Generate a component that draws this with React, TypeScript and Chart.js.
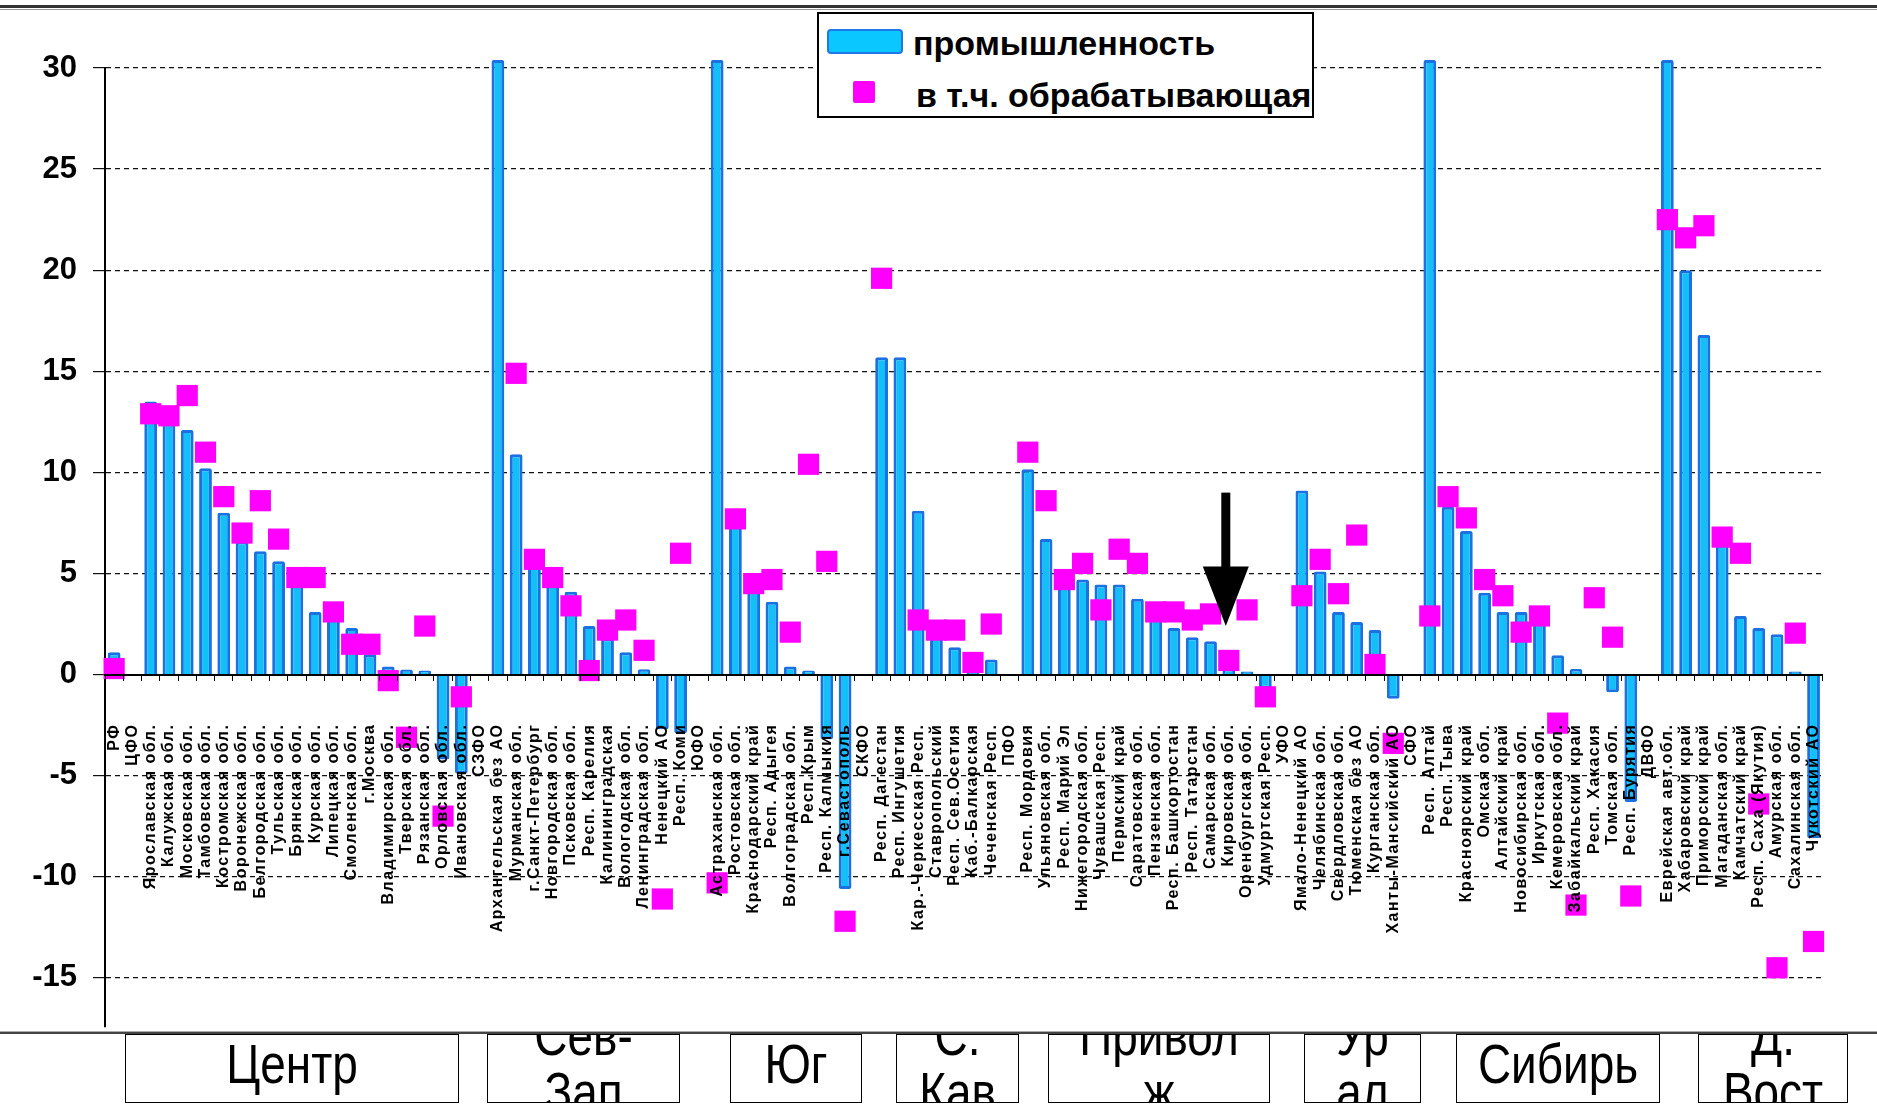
import React, { useEffect, useRef } from 'react';
import { Chart, registerables } from 'chart.js';

Chart.register(...registerables);

const categories: string[] = [
  'РФ', 'ЦФО', 'Ярославская обл.', 'Калужская обл.', 'Московская обл.', 'Тамбовская обл.', 'Костромская обл.',
  'Воронежская обл.', 'Белгородская обл.', 'Тульская обл.', 'Брянская обл.', 'Курская обл.', 'Липецкая обл.',
  'Смоленская обл.', 'г.Москва', 'Владимирская обл.', 'Тверская обл.', 'Рязанская обл.', 'Орловская обл.',
  'Ивановская обл.', 'СЗФО', 'Архангельская без АО', 'Мурманская обл.', 'г.Санкт-Петербург', 'Новгородская обл.',
  'Псковская обл.', 'Респ. Карелия', 'Калининградская', 'Вологодская обл.', 'Ленинградская обл.', 'Ненецкий АО',
  'Респ. Коми', 'ЮФО', 'Астраханская обл.', 'Ростовская обл.', 'Краснодарский край', 'Респ. Адыгея',
  'Волгоградская обл.', 'Респ.Крым', 'Респ. Калмыкия', 'г.Севастополь', 'СКФО', 'Респ. Дагестан',
  'Респ. Ингушетия', 'Кар.-Черкесская Респ.', 'Ставропольский', 'Респ. Сев.Осетия', 'Каб.-Балкарская',
  'Чеченская Респ.', 'ПФО', 'Респ. Мордовия', 'Ульяновская обл.', 'Респ. Марий Эл', 'Нижегородская обл.',
  'Чувашская Респ.', 'Пермский край', 'Саратовская обл.', 'Пензенская обл.', 'Респ. Башкортостан',
  'Респ. Татарстан', 'Самарская обл.', 'Кировская обл.', 'Оренбургская обл.', 'Удмуртская Респ.', 'УФО',
  'Ямало-Ненецкий АО', 'Челябинская обл.', 'Свердловская обл.', 'Тюменская без АО', 'Курганская обл.',
  'Ханты-Мансийский АО', 'СФО', 'Респ. Алтай', 'Респ. Тыва', 'Красноярский край', 'Омская обл.',
  'Алтайский край', 'Новосибирская обл.', 'Иркутская обл.', 'Кемеровская обл.', 'Забайкальский край',
  'Респ. Хакасия', 'Томская обл.', 'Респ. Бурятия', 'ДВФО', 'Еврейская авт.обл.', 'Хабаровский край',
  'Приморский край', 'Магаданская обл.', 'Камчатский край', 'Респ. Саха (Якутия)', 'Амурская обл.',
  'Сахалинская обл.', 'Чукотский АО',
];

// промышленность
const industry: (number | null)[] = [
  1.1, null, 13.5, 12.9, 12.1, 10.2, 8.0, 6.6, 6.1, 5.6, 4.6, 3.1, 2.8, 2.3, 1.0, 0.4, 0.25, 0.2, -4.2, -4.9,
  null, 30.4, 10.9, 5.5, 4.5, 4.1, 2.4, 1.8, 1.1, 0.26, -2.7, -2.9,
  null, 30.4, 7.4, 4.3, 3.6, 0.4, 0.2, -3.2, -10.6,
  null, 15.7, 15.7, 8.1, 2.0, 1.35, 0.5, 0.75,
  null, 10.15, 6.7, 4.5, 4.7, 4.45, 4.45, 3.75, 2.9, 2.3, 1.85, 1.65, 0.3, 0.15, -0.7,
  null, 9.1, 5.1, 3.1, 2.6, 2.2, -1.2,
  null, 30.4, 8.3, 7.1, 4.05, 3.1, 3.1, 2.7, 0.95, 0.27, null, -0.87, -6.3,
  null, 30.4, 20.0, 16.8, 6.6, 2.9, 2.3, 2.0, 0.15, -8.1,
];

// в т.ч. обрабатывающая
const manufacturing: (number | null)[] = [
  0.3, null, 12.9, 12.8, 13.8, 11.0, 8.8, 7.0, 8.6, 6.7, 4.8, 4.8, 3.1, 1.5, 1.5, -0.3, -3.1, 2.4, -7.0, -1.1,
  null, null, 14.9, 5.7, 4.8, 3.4, 0.2, 2.2, 2.7, 1.2, -11.1, 6.0,
  null, -10.3, 7.7, 4.5, 4.7, 2.1, 10.4, 5.6, -12.2,
  null, 19.6, null, 2.7, 2.2, 2.2, 0.6, 2.5,
  null, 11.0, 8.6, 4.7, 5.5, 3.2, 6.2, 5.5, 3.1, 3.1, 2.7, 3.0, 0.7, 3.2, -1.1,
  null, 3.9, 5.7, 4.0, 6.9, 0.5, -3.4,
  null, 2.9, 8.8, 7.75, 4.7, 3.9, 2.1, 2.9, -2.4, -11.4, 3.8, 1.85, -10.95,
  null, 22.5, 21.6, 22.2, 6.8, 6.0, -6.4, -14.5, 2.05, -13.2,
];

const seriesNames: string[] = ['промышленность', 'в т.ч. обрабатывающая'];
const yMin = -17.4;
const yMax = 30;
const yStep = 5;
const arrowCategory = 'Кировская обл.';

const regionLines: string[][] = [
  ['Центр'], ['Сев-', 'Зап'], ['Юг'], ['С.', 'Кав'], ['Привол', 'ж'], ['Ур', 'ал'], ['Сибирь'], ['Д.', 'Вост'],
];
const regionBoxes: [number, number][] = [
  [125, 459], [487, 680], [730, 862], [896, 1019], [1048, 1270], [1304, 1421], [1456, 1660], [1698, 1848],
];

const BAR_FILL = '#12BFF6';
const BAR_EDGE = '#1B70E2';
const MAG = '#FF00FF';
const FONT = '"Liberation Sans", Arial, sans-serif';

// letter spacing only for the category labels (x tick labels are drawn after the datasets)
const spacingPlugin = {
  id: 'labelSpacing',
  beforeDraw(chart: any) {
    (chart.ctx as any).letterSpacing = '0px';
  },
  afterDatasetsDraw(chart: any) {
    (chart.ctx as any).letterSpacing = '1.5px';
  },
  afterDraw(chart: any) {
    (chart.ctx as any).letterSpacing = '0px';
  },
};

const arrowPlugin = {
  id: 'arrowMark',
  afterDatasetsDraw(chart: any) {
    const { ctx, scales } = chart;
    const x = scales.x;
    const y = scales.y;
    const idx = categories.indexOf(arrowCategory);
    const cx = x.getPixelForValue(idx) - 3;
    const yTop = y.getPixelForValue(9.0);
    const yBase = y.getPixelForValue(5.35);
    const yTip = y.getPixelForValue(2.4);
    ctx.save();
    ctx.fillStyle = '#000';
    ctx.fillRect(cx - 4.5, yTop, 9, yBase - yTop + 1);
    ctx.beginPath();
    ctx.moveTo(cx - 23, yBase);
    ctx.lineTo(cx + 23, yBase);
    ctx.lineTo(cx, yTip);
    ctx.closePath();
    ctx.fill();
    ctx.restore();
  },
};

export default function App() {
  const ref = useRef<HTMLCanvasElement | null>(null);

  useEffect(() => {
    const canvas = ref.current;
    if (!canvas) return;
    const chart = new Chart(canvas, {
      type: 'bar',
      data: {
        labels: categories,
        datasets: [
          {
            type: 'line',
            label: seriesNames[1],
            data: manufacturing,
            showLine: false,
            pointStyle: 'rect',
            pointRadius: 15,
            pointHoverRadius: 15,
            pointBorderWidth: 0,
            pointBackgroundColor: MAG,
            backgroundColor: MAG,
            borderColor: MAG,
            order: 0,
            clip: false,
          } as any,
          {
            type: 'bar',
            label: seriesNames[0],
            data: industry,
            backgroundColor: BAR_FILL,
            borderColor: BAR_EDGE,
            borderWidth: 3,
            borderRadius: 2,
            barPercentage: 0.7,
            categoryPercentage: 1,
            order: 1,
            clip: false,
          } as any,
        ],
      },
      options: {
        animation: false,
        responsive: false,
        maintainAspectRatio: false,
        events: [],
        layout: { padding: { top: 68, right: 48, bottom: 20, left: 0 } },
        plugins: {
          legend: { display: false },
          tooltip: { enabled: false },
        },
        scales: {
          x: {
            position: { y: 0 } as any,
            offset: true,
            grid: {
              display: true,
              drawOnChartArea: false,
              drawTicks: true,
              tickLength: 5,
              color: '#000',
              offset: true,
              z: 1,
            },
            border: { display: true, color: '#000', width: 2, z: 1 },
            ticks: {
              z: 1,
              autoSkip: false,
              minRotation: 90,
              maxRotation: 90,
              padding: 44,
              color: '#000',
              font: { family: FONT, size: 16, weight: 'bold' },
            },
          },
          y: {
            min: yMin,
            max: yMax,
            afterBuildTicks: (scale: any) => {
              scale.ticks = scale.ticks.filter((t: any) => Math.abs(t.value % yStep) < 1e-9);
            },
            afterFit: (scale: any) => {
              scale.width = 105;
            },
            ticks: {
              stepSize: yStep,
              padding: 16,
              color: '#000',
              font: { family: FONT, size: 31, weight: 'bold' },
            },
            grid: {
              color: '#111',
              lineWidth: 1.2,
              tickLength: 12,
              drawTicks: true,
            },
            border: { display: true, color: '#000', width: 2, dash: [5, 4] },
          },
        },
      },
      plugins: [spacingPlugin, arrowPlugin],
    } as any);
    return () => chart.destroy();
  }, []);

  return (
    <div
      style={{
        position: 'fixed',
        left: 0,
        top: 0,
        width: 1877,
        height: 1104,
        overflow: 'hidden',
        background: '#fff',
        fontFamily: FONT,
      }}
    >
      <div style={{ position: 'absolute', left: 0, top: 5, width: 1877, height: 3, background: '#333' }} />
      <div style={{ position: 'absolute', left: 0, top: 9, width: 1877, height: 1, background: '#999' }} />
      <canvas
        ref={ref}
        width={1877}
        height={1061}
        style={{ position: 'absolute', left: 0, top: 0, width: 1877, height: 1061, display: 'block' }}
      />
      {/* legend */}
      <div
        style={{
          position: 'absolute',
          left: 817,
          top: 12,
          width: 497,
          height: 106,
          boxSizing: 'border-box',
          border: '2px solid #000',
          background: '#fff',
        }}
      >
        <div
          style={{
            position: 'absolute',
            left: 8,
            top: 15,
            width: 76,
            height: 25,
            boxSizing: 'border-box',
            background: '#0AC8FF',
            border: '2.5px solid #1E78E6',
            borderRadius: 4,
          }}
        />
        <div
          style={{
            position: 'absolute',
            left: 94,
            top: 9,
            height: 40,
            lineHeight: '40px',
            fontSize: 34,
            fontWeight: 'bold',
            whiteSpace: 'nowrap',
            color: '#000',
          }}
        >
          {seriesNames[0]}
        </div>
        <div
          style={{
            position: 'absolute',
            left: 34,
            top: 67,
            width: 22,
            height: 22,
            background: MAG,
            borderRadius: 2,
          }}
        />
        <div
          style={{
            position: 'absolute',
            left: 97,
            top: 61,
            height: 40,
            lineHeight: '40px',
            fontSize: 34,
            fontWeight: 'bold',
            whiteSpace: 'nowrap',
            color: '#000',
          }}
        >
          {seriesNames[1]}
        </div>
      </div>
      {/* bottom region table */}
      <div style={{ position: 'absolute', left: 0, top: 1031, width: 1877, height: 1, background: '#aaa' }} />
      <div style={{ position: 'absolute', left: 0, top: 1032, width: 1877, height: 2, background: '#444' }} />
      {regionBoxes.map(([l, r], i) => {
        const lines = regionLines[i];
        const lh = 56;
        const top = 29 - (lines.length * lh) / 2;
        return (
          <div
            key={i}
            style={{
              position: 'absolute',
              left: l,
              top: 1034,
              width: r - l,
              height: 69,
              boxSizing: 'border-box',
              border: '1.5px solid #000',
              overflow: 'hidden',
              background: '#fff',
            }}
          >
            <div
              style={{
                position: 'absolute',
                left: 0,
                right: 0,
                top: top,
                textAlign: 'center',
                fontSize: 56,
                lineHeight: lh + 'px',
                color: '#000',
              }}
            >
              {lines.map((t, j) => (
                <div key={j} style={{ transform: 'scaleX(0.82)', whiteSpace: 'nowrap' }}>
                  {t}
                </div>
              ))}
            </div>
          </div>
        );
      })}
    </div>
  );
}
